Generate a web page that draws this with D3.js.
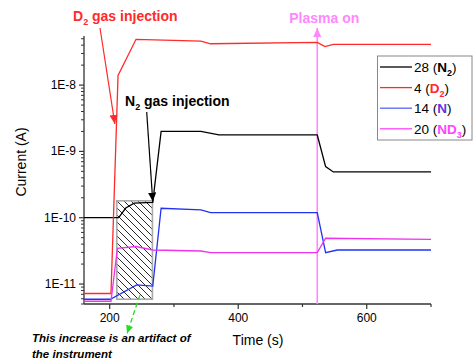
<!DOCTYPE html>
<html>
<head>
<meta charset="utf-8">
<script src="https://cdn.jsdelivr.net/npm/d3@7"></script>
<style>
  body { margin: 0; background: #fff; }
  text { font-family: Arial, "Liberation Sans", sans-serif; }
</style>
</head>
<body>
<script>
var w = 473,
    h = 363;

// mass spectrometer traces, time in s, current in A
var timeN2  = [160, 214, 225, 238, 267, 280, 342, 370, 523, 536, 548, 700];
var mass28  = [1.0e-10, 1.0e-10, 1.4e-10, 1.66e-10, 1.7e-10, 2.0e-9, 2.0e-9, 1.77e-9, 1.77e-9, 5.9e-10, 4.9e-10, 4.9e-10];

var timeD2  = [160, 202, 213, 241, 342, 357, 523, 535, 548, 700];
var mass4   = [7.2e-12, 7.2e-12, 1.4e-8, 4.9e-8, 4.6e-8, 4.2e-8, 4.4e-8, 3.8e-8, 4.1e-8, 4.1e-8];

var timeN   = [160, 201, 242, 267, 280, 342, 357, 523, 536, 554, 700];
var mass14  = [5.9e-12, 5.9e-12, 9.7e-12, 9.3e-12, 1.39e-10, 1.31e-10, 1.19e-10, 1.19e-10, 2.97e-11, 3.26e-11, 3.26e-11];

var timeND3 = [160, 202, 212, 241, 267, 342, 357, 523, 536, 700];
var mass20  = [5.5e-12, 5.5e-12, 3.45e-11, 3.68e-11, 3.26e-11, 3.15e-11, 2.97e-11, 2.97e-11, 4.9e-11, 4.7e-11];

var xTicks = [200, 400, 600];
var xMinor = [300, 500, 700];
var yTicks = [1e-11, 1e-10, 1e-9, 1e-8];
var yLabels = ["1E-11", "1E-10", "1E-9", "1E-8"];

var plasmaTime = 523;
var artifactT = [211, 266.5];
var artifactI = [5.9e-12, 1.8e-10];

var x = d3.scaleLinear().domain([160, 700]).range([84, 431]);
var y = d3.scaleLog().domain([5e-12, 5.5e-8]).range([304, 36]);

var svg = d3.select("body").append("svg")
    .attr("width", w)
    .attr("height", h);

var defs = svg.append("defs");
var pat = defs.append("pattern")
    .attr("id", "hatch")
    .attr("patternUnits", "userSpaceOnUse")
    .attr("width", 7)
    .attr("height", 7);
pat.append("path")
    .attr("d", "M-1,-1 L8,8 M-1,6 L1,8 M6,-1 L8,1")
    .style("stroke", "#111")
    .style("stroke-width", 0.9);

function arrowMarker(id, color, size)
{
    defs.append("marker")
        .attr("id", id)
        .attr("viewBox", "0 -5 10 10")
        .attr("refX", 10)
        .attr("refY", 0)
        .attr("markerUnits", "userSpaceOnUse")
        .attr("markerWidth", size)
        .attr("markerHeight", size)
        .attr("orient", "auto")
        .append("path")
        .attr("d", "M0,-4.5L10,0L0,4.5Z")
        .style("fill", color);
}
arrowMarker("arRed", "#ff2a2a", 9);
arrowMarker("arBlack", "#000", 9);
arrowMarker("arGreen", "#22dd22", 8);
arrowMarker("arPink", "#ff88ff", 9);

// hatched box over the instrument artifact
svg.append("rect")
    .attr("x", x(artifactT[0]))
    .attr("y", y(artifactI[1]))
    .attr("width", x(artifactT[1]) - x(artifactT[0]))
    .attr("height", y(artifactI[0]) - y(artifactI[1]))
    .style("fill", "url(#hatch)")
    .style("stroke", "#aaa")
    .style("stroke-width", 1.6);

// axes
var xAxis = svg.append("g").attr("transform", "translate(0,304)");
xAxis.append("line")
    .attr("x1", 84).attr("x2", 431)
    .style("stroke", "#333").style("stroke-width", 1.3);
xAxis.selectAll("line.maj").data(xTicks).enter().append("line")
    .attr("class", "maj")
    .attr("x1", d => x(d)).attr("x2", d => x(d))
    .attr("y1", 0).attr("y2", 5)
    .style("stroke", "#333").style("stroke-width", 1.2);
xAxis.selectAll("line.min").data(xMinor).enter().append("line")
    .attr("class", "min")
    .attr("x1", d => x(d)).attr("x2", d => x(d))
    .attr("y1", 0).attr("y2", 3)
    .style("stroke", "#333").style("stroke-width", 1.2);
xAxis.selectAll("text").data(xTicks).enter().append("text")
    .attr("x", d => x(d)).attr("y", 18)
    .attr("text-anchor", "middle")
    .style("font-size", "12px")
    .text(d => d);

var yMinor = [];
[1e-12, 1e-11, 1e-10, 1e-9, 1e-8].forEach(function(dec) {
    for (var k = 2; k <= 9; k++) {
        var v = k * dec;
        if (v >= 5e-12 && v <= 5.5e-8) yMinor.push(v);
    }
});

var yAxis = svg.append("g");
yAxis.append("line")
    .attr("x1", 84).attr("x2", 84)
    .attr("y1", 36).attr("y2", 304)
    .style("stroke", "#333").style("stroke-width", 1.3);
yAxis.selectAll("line.maj").data(yTicks).enter().append("line")
    .attr("class", "maj")
    .attr("x1", 79).attr("x2", 84)
    .attr("y1", d => y(d)).attr("y2", d => y(d))
    .style("stroke", "#333").style("stroke-width", 1.2);
yAxis.selectAll("line.min").data(yMinor).enter().append("line")
    .attr("class", "min")
    .attr("x1", 81).attr("x2", 84)
    .attr("y1", d => y(d)).attr("y2", d => y(d))
    .style("stroke", "#333").style("stroke-width", 1);
yAxis.selectAll("text").data(yTicks).enter().append("text")
    .attr("x", 76).attr("y", d => y(d) + 4)
    .attr("text-anchor", "end")
    .style("font-size", "12px")
    .text((d, i) => yLabels[i]);

svg.append("text")
    .attr("x", 258).attr("y", 345)
    .attr("text-anchor", "middle")
    .style("font-size", "14px")
    .text("Time (s)");
svg.append("text")
    .attr("transform", "translate(26,162) rotate(-90)")
    .attr("text-anchor", "middle")
    .style("font-size", "14px")
    .text("Current (A)");

// plasma switch-on marker
svg.append("line")
    .attr("x1", x(plasmaTime)).attr("x2", x(plasmaTime))
    .attr("y1", y(5e-12)).attr("y2", 28)
    .attr("marker-end", "url(#arPink)")
    .style("stroke", "#ff88ff").style("stroke-width", 1.6);

// traces
var series = [
    { t: timeN2,  v: mass28, color: "#000" },
    { t: timeD2,  v: mass4,  color: "#ff2a2a" },
    { t: timeN,   v: mass14, color: "#2233ee" },
    { t: timeND3, v: mass20, color: "#ee33ee" }
];
var line = d3.line().x(d => x(d[0])).y(d => y(d[1]));
svg.selectAll("path.trace").data(series).enter().append("path")
    .attr("class", "trace")
    .attr("d", d => line(d.t.map((t, i) => [t, d.v[i]])))
    .style("fill", "none")
    .style("stroke", d => d.color)
    .style("stroke-width", 1.3);

// annotations
svg.append("line")
    .attr("x1", 100).attr("y1", 28)
    .attr("x2", x(208)).attr("y2", y(2.6e-9))
    .attr("marker-end", "url(#arRed)")
    .style("stroke", "#ff2a2a").style("stroke-width", 1.2);
var d2txt = svg.append("text")
    .attr("x", 73).attr("y", 21)
    .style("font-size", "14px").style("font-weight", "bold")
    .style("fill", "#ff2a2a");
d2txt.append("tspan").text("D");
d2txt.append("tspan").attr("dy", 4).style("font-size", "9px").text("2");
d2txt.append("tspan").attr("dy", -4).text(" gas injection");

svg.append("line")
    .attr("x1", 146.7).attr("y1", 112)
    .attr("x2", x(267)).attr("y2", y(1.75e-10))
    .attr("marker-end", "url(#arBlack)")
    .style("stroke", "#000").style("stroke-width", 1.2);
var n2txt = svg.append("text")
    .attr("x", 125).attr("y", 106)
    .style("font-size", "14px").style("font-weight", "bold");
n2txt.append("tspan").text("N");
n2txt.append("tspan").attr("dy", 4).style("font-size", "9px").text("2");
n2txt.append("tspan").attr("dy", -4).text(" gas injection");

svg.append("text")
    .attr("x", x(plasmaTime) + 7).attr("y", 23)
    .attr("text-anchor", "middle")
    .style("font-size", "14px").style("font-weight", "bold")
    .style("fill", "#ff88ff")
    .text("Plasma on");

svg.append("line")
    .attr("x1", x(247)).attr("y1", y(6.8e-12))
    .attr("x2", x(227)).attr("y2", y(1.8e-12))
    .attr("marker-end", "url(#arGreen)")
    .style("stroke", "#22dd22").style("stroke-width", 1.3)
    .style("stroke-dasharray", "5,3");
svg.append("text")
    .attr("x", 32).attr("y", 342)
    .style("font-size", "11.5px").style("font-weight", "bold").style("font-style", "italic")
    .text("This increase is an artifact of");
svg.append("text")
    .attr("x", 32).attr("y", 358)
    .style("font-size", "11.5px").style("font-weight", "bold").style("font-style", "italic")
    .text("the instrument");

// legend
var legend = [
    { num: "28 (", sym: "N", sub: "2", color: "#000", symColor: "#000" },
    { num: "4 (",  sym: "D", sub: "2", color: "#ff2a2a", symColor: "#ff2a2a" },
    { num: "14 (", sym: "N", sub: "",  color: "#5566ee", symColor: "#6633dd" },
    { num: "20 (", sym: "ND", sub: "3", color: "#ff44ff", symColor: "#ff44ff" }
];
svg.append("rect")
    .attr("x", 377.5).attr("y", 56)
    .attr("width", 94.5).attr("height", 84)
    .style("fill", "#fff")
    .style("stroke", "#888").style("stroke-width", 1);
var lg = svg.selectAll("g.leg").data(legend).enter().append("g")
    .attr("class", "leg")
    .attr("transform", (d, i) => "translate(0," + (67 + i * 20.6) + ")");
lg.append("line")
    .attr("x1", 380).attr("x2", 412)
    .style("stroke", d => d.color).style("stroke-width", 1.3);
var lt = lg.append("text")
    .attr("x", 414).attr("y", 5)
    .style("font-size", "13.5px");
lt.append("tspan").text(d => d.num);
lt.append("tspan").style("font-weight", "bold").style("fill", d => d.symColor).text(d => d.sym);
lt.append("tspan").attr("dy", 4).style("font-size", "9px").style("font-weight", "bold")
    .style("fill", d => d.symColor).text(d => d.sub);
lt.append("tspan").attr("dy", d => d.sub ? -4 : 0).text(")");
</script>
</body>
</html>
